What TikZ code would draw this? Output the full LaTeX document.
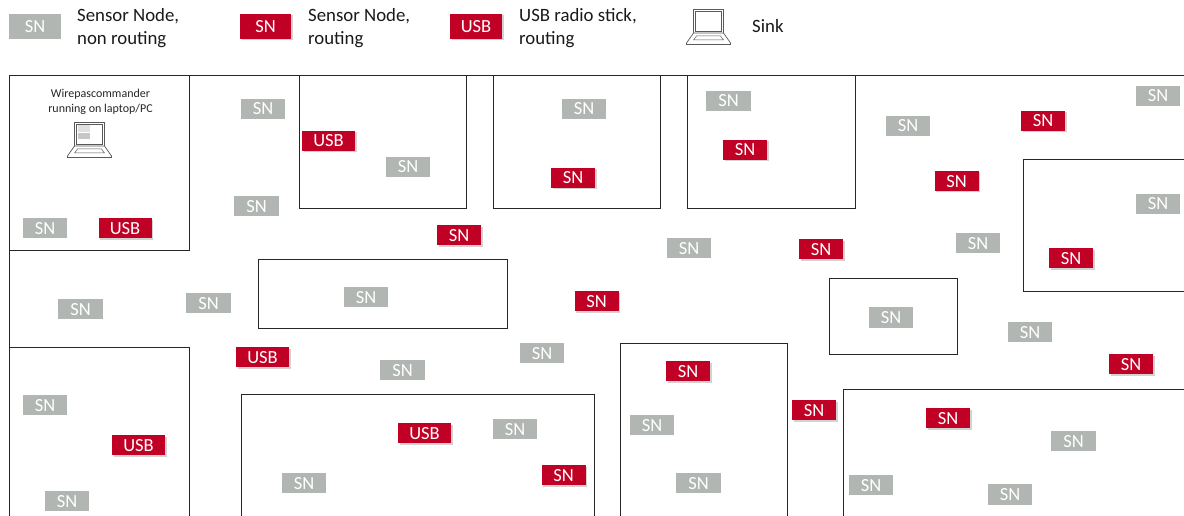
\documentclass[tikz,border=0pt]{standalone}
\usepackage{fontspec}
\setmainfont{Carlito}
\usetikzlibrary{shadows,positioning}

\definecolor{snGrey}{HTML}{B1B6B3}
\definecolor{snRed}{HTML}{C00024}

\tikzset{
    room/.style={draw=black!85, line width=0.9pt},
    nodeBase/.style={text=white, font=\fontsize{18.5}{18.5}\selectfont, inner sep=0pt, text height=12pt, text depth=0pt},
    snGreyBox/.style={nodeBase, fill=snGrey, minimum width=44.5pt, minimum height=20.5pt},
    snRedBox/.style={nodeBase, fill=snRed, minimum width=44pt, minimum height=20pt,
        drop shadow={shadow xshift=1.5pt, shadow yshift=-1.5pt, fill=black!35, opacity=0.5}},
    usbBox/.style={snRedBox, minimum width=53pt},
    legendText/.style={align=left, anchor=west, inner sep=0pt, text=black!90,
        font=\fontsize{18.8}{23}\selectfont},
    laptop/.pic={
        \draw[black!65, line width=0.7pt, fill=white] (-15,-20) -- (15,-20) -- (15,4) -- (-15,4) -- cycle;
        \draw[black!65, line width=0.7pt] (-13,-18) rectangle (13,2);
        \draw[black!65, line width=0.7pt, fill=white] (-15,4) -- (15,4) -- (22,14) -- (22,15.5) -- (-22,15.5) -- (-22,14) -- cycle;
        \draw[black!65, line width=0.5pt] (-12,7) -- (12,7) -- (15,11) -- (-15,11) -- cycle;
    }
}

\begin{document}
\begin{tikzpicture}[x=1pt, y=-1pt]

    \useasboundingbox (0,0) rectangle (1184,516);

    % --- outer walls ---
    \draw[room] (1184,75) -- (9,75) -- (9,516);

    % --- rooms ---
    \foreach \xa/\ya/\xb/\yb in {
        9/75/189.8/250, 299/75/466/208, 493/75/660/208, 687/75/855/208,
        1023/159/1184/291, 258/259/507/328, 829/278/957/354}
        \draw[room] (\xa,\ya) rectangle (\xb,\yb);

    % --- rooms cut by the lower and right edge ---
    \draw[room] (9,347.5) -- (189.8,347.5) -- (189.8,516);
    \draw[room] (241,516) -- (241,394) -- (594,394) -- (594,516);
    \draw[room] (620,516) -- (620,343) -- (787,343) -- (787,516);
    \draw[room] (843,516) -- (843,389) -- (1184,389);

    % --- legend ---
    \node[snGreyBox, minimum width=52pt, minimum height=25pt] (legendGrey) at (35,26.5) {SN};
    \node[snRedBox, minimum width=51pt, minimum height=25pt] (legendRed) at (265.5,26.5) {SN};
    \node[usbBox, minimum width=52pt, minimum height=25pt] (legendUsb) at (476,26.5) {USB};
    \node[legendText] (legendGreyText) at (77,28.5) {Sensor Node,\\non routing};
    \node[legendText] (legendRedText) at (308,28.5) {Sensor Node,\\routing};
    \node[legendText] (legendUsbText) at (519,28.5) {USB radio stick,\\routing};
    \node[legendText] (legendSinkText) at (752,26) {Sink};
    \pic at (708.5,29) {laptop};

    % --- sink ---
    \node[align=center, inner sep=0pt, text=black!85, font=\fontsize{12}{15}\selectfont] (sinkText) at (100.5,101.5)
        {Wirepascommander\\running on laptop/PC};
    \pic at (89.5,142) {laptop};
    \fill[black!22] (77.5,133) rectangle (90,139);
    \fill[black!12] (77.5,125.5) rectangle (90,132);

    % --- sensor nodes, non routing ---
    \foreach \x/\y [count=\i] in {
        263/109, 408/167, 584/109, 728.5/101, 908/126, 1158/96, 1158/204, 45/228,
        256.5/206, 689/248, 978/243, 366/297, 80.5/309, 208.5/303, 891/317.5, 1030/332,
        542/353, 402.5/370, 45/405, 515/429, 652/425, 1073.5/441, 304/483, 698.5/483,
        871/485, 1010/494.5, 67/501}
        \node[snGreyBox] (sn\i) at (\x,\y) {SN};

    % --- sensor nodes, routing ---
    \foreach \x/\y [count=\i] in {
        1043/121, 745/150, 573/178, 956.5/181, 459/235, 821/249, 1071/258, 596.5/301,
        688/371, 1131/364, 814/410, 948/418, 563.5/475}
        \node[snRedBox] (rn\i) at (\x,\y) {SN};

    % --- USB radio sticks ---
    \foreach \x/\y [count=\i] in {
        328.5/141, 125/228, 262.5/357, 424.5/433, 138.5/445}
        \node[usbBox] (usb\i) at (\x,\y) {USB};

\end{tikzpicture}
\end{document}
